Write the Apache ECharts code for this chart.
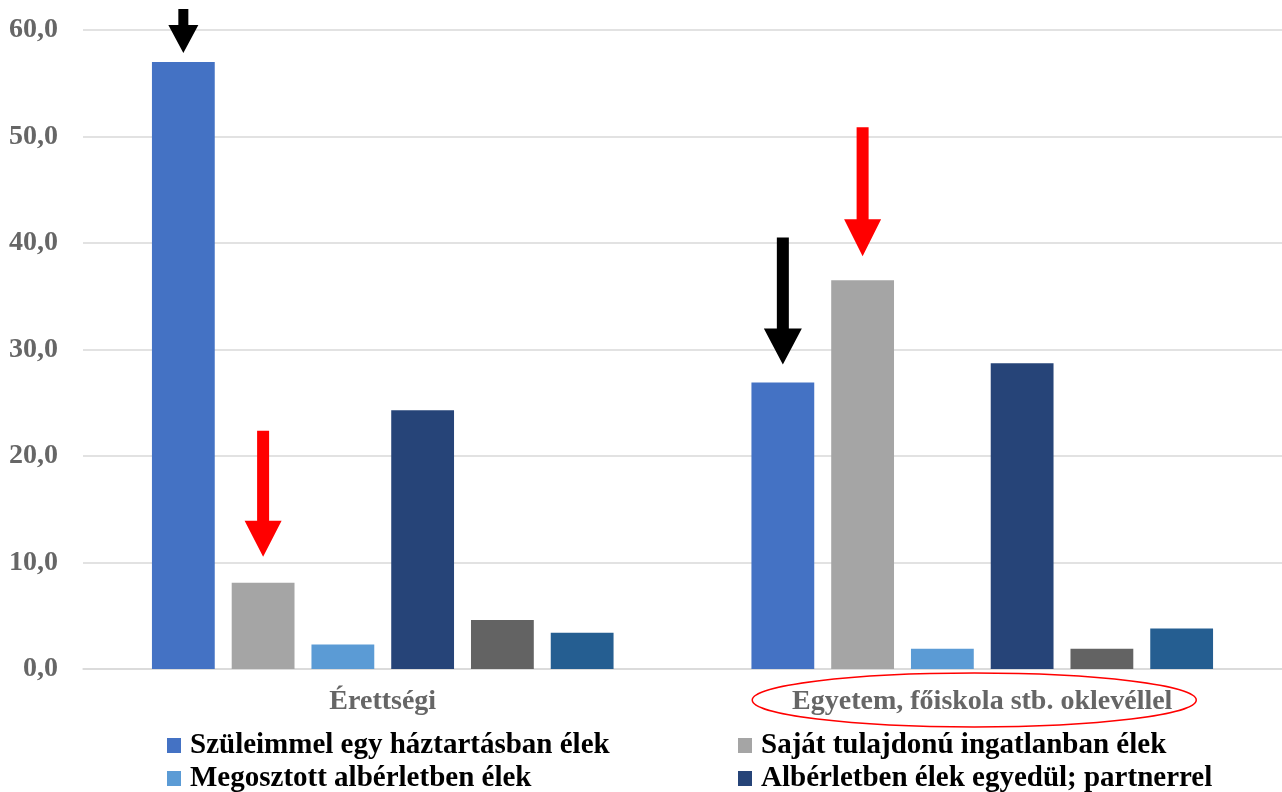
<html>
<head>
    <meta charset="utf-8">
    <title>ECharts</title>
    <script src="https://cdn.jsdelivr.net/npm/echarts@6/dist/echarts.min.js"></script>
    <style>
        html, body { margin: 0; padding: 0; background: #fff; }
    </style>
</head>
<body>
    <div id="main" style="width: 1282px;height:792px;"></div>
    <script type="text/javascript">
        var categories = ['Érettségi', 'Egyetem, főiskola stb. oklevéllel'];
        var seriesNames = [
            'Szüleimmel egy háztartásban élek',
            'Saját tulajdonú ingatlanban élek',
            'Megosztott albérletben élek',
            'Albérletben élek egyedül; partnerrel',
            'Egyéb',
            'Nem tudom'
        ];
        var szuleimmel = [57.0, 26.9];
        var sajat = [8.1, 36.5];
        var megosztott = [2.3, 1.9];
        var alberlet = [24.3, 28.7];
        var egyeb = [4.6, 1.9];
        var nemTudom = [3.4, 3.8];
        var yTicks = [0, 10, 20, 30, 40, 50, 60];

        var colors = ['#4472C4', '#A5A5A5', '#5B9BD5', '#264478', '#636363', '#255E91'];
        var font = "'Liberation Serif', 'Times New Roman', serif";

        // nyíl alakú szimbólum (lefelé mutat)
        function arrowPath(total, shaftW, headW, headH) {
            var a = (headW - shaftW) / 2, b = a + shaftW, s = total - headH;
            return 'path://M' + a + ',0 L' + b + ',0 L' + b + ',' + s + ' L' + headW + ',' + s +
                ' L' + (headW / 2) + ',' + total + ' L0,' + s + ' L' + a + ',' + s + ' Z';
        }
        function arrow(cat, value, color, total, shaftW, headW, headH, gap) {
            return {
                coord: [cat, value],
                symbol: arrowPath(total, shaftW, headW, headH),
                symbolSize: [headW, total],
                symbolOffset: [0, -(gap + total / 2)],
                itemStyle: { color: color }
            };
        }
        // egy jelmagyarázat-elem
        function legendItem(name, left, top) {
            return {
                left: left,
                top: top,
                itemWidth: 14,
                itemHeight: 15,
                icon: 'rect',
                data: [name],
                textStyle: { fontFamily: font, fontWeight: 'bold', fontSize: 29, color: '#000', padding: [0, 0, 0, 4] }
            };
        }

        var myChart = echarts.init(document.getElementById('main'));

        var allData = [szuleimmel, sajat, megosztott, alberlet, egyeb, nemTudom];
        var marks = [
            [arrow(categories[0], szuleimmel[0], '#000', 44, 10, 30, 28, 9),
             arrow(categories[1], szuleimmel[1], '#000', 127, 12, 38, 36, 18)],
            [arrow(categories[0], sajat[0], '#ff0000', 126, 12, 37, 36, 26),
             arrow(categories[1], sajat[1], '#ff0000', 129, 12, 37, 37, 24)]
        ];

        var option = {
            animation: false,
            color: colors,
            grid: { left: 83, right: 0, top: 30, bottom: 123 },
            legend: [
                legendItem(seriesNames[0], 162, 726),
                legendItem(seriesNames[1], 733, 726),
                legendItem(seriesNames[2], 162, 759),
                legendItem(seriesNames[3], 733, 759)
            ],
            xAxis: {
                type: 'category',
                data: categories,
                axisLine: { lineStyle: { color: '#d9d9d9', width: 1.5 } },
                axisTick: { show: false },
                axisLabel: { fontFamily: font, fontWeight: 'bold', fontSize: 28, color: '#666', margin: 19 }
            },
            yAxis: {
                type: 'value',
                min: yTicks[0],
                max: yTicks[yTicks.length - 1],
                interval: 10,
                axisLine: { show: false },
                axisTick: { show: false },
                splitLine: { lineStyle: { color: '#d9d9d9', width: 1.5 } },
                axisLabel: {
                    fontFamily: font, fontWeight: 'bold', fontSize: 28, color: '#666', margin: 25,
                    formatter: function (v) { return v.toFixed(1).replace('.', ','); }
                }
            },
            series: allData.map(function (d, i) {
                return {
                    name: seriesNames[i],
                    type: 'bar',
                    data: d,
                    barGap: '27%',
                    barCategoryGap: '23%',
                    markPoint: marks[i] ? { label: { show: false }, data: marks[i] } : undefined
                };
            })
        };

        myChart.setOption(option);

        // piros ellipszis a második kategória felirata körül
        var cx = myChart.convertToPixel({ xAxisIndex: 0 }, categories[1]);
        var cy = myChart.convertToPixel({ yAxisIndex: 0 }, 0);
        myChart.setOption({
            graphic: [{
                type: 'ellipse',
                shape: { cx: cx - 8, cy: cy + 31, rx: 222, ry: 27 },
                style: { fill: 'none', stroke: '#ff0000', lineWidth: 1.5 }
            }]
        });
    </script>
</body>
</html>
